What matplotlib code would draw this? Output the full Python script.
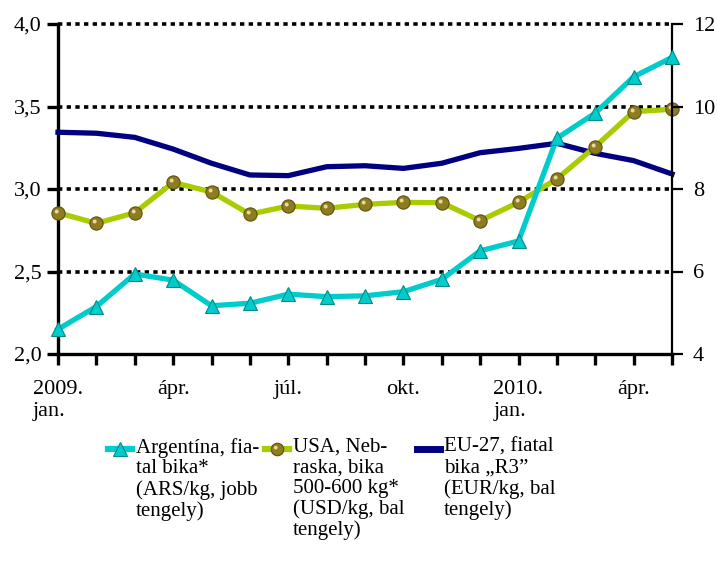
import numpy as np
import matplotlib
matplotlib.use("Agg")
import matplotlib.pyplot as plt
from matplotlib.lines import Line2D
from matplotlib.path import Path
from matplotlib.ticker import FuncFormatter

plt.rcParams['font.family'] = ['Liberation Serif', 'DejaVu Serif']

# 2009 jan .. 2010 máj
months = np.arange(17)
xtick_labels = {0: '2009.\njan.', 3: 'ápr.', 6: 'júl.', 9: 'okt.', 12: '2010.\njan.', 15: 'ápr.'}

# Argentína, fiatal bika (ARS/kg, jobb tengely)
argentina = [4.60, 5.15, 5.94, 5.79, 5.17, 5.23, 5.45, 5.39, 5.41, 5.51,
             5.81, 6.50, 6.74, 9.23, 9.84, 10.72, 11.19]
# USA, Nebraska, bika 500-600 kg (USD/kg, bal tengely)
usa = [2.856, 2.792, 2.856, 3.040, 2.982, 2.847, 2.897, 2.883, 2.907, 2.919,
       2.917, 2.808, 2.919, 3.061, 3.257, 3.469, 3.483]
# EU-27, fiatal bika R3 (EUR/kg, bal tengely)
eu = [3.344, 3.338, 3.313, 3.242, 3.156, 3.085, 3.081, 3.135, 3.141, 3.125,
      3.156, 3.220, 3.246, 3.277, 3.216, 3.172, 3.091]

labels = ['Argentína, fia-\ntal bika*\n(ARS/kg, jobb\ntengely)',
          'USA, Neb-\nraska, bika\n500-600 kg*\n(USD/kg, bal\ntengely)',
          'EU-27, fiatal\nbika „R3”\n(EUR/kg, bal\ntengely)']

c_arg = '#00CCCC'
c_usa = '#A8CC00'
c_eu = '#000080'
c_ball = '#8E7C20'
c_hl = '#E6DA9A'

# small off-centre highlight to make the round markers look like balls
_c = Path.circle((-0.28, 0.3), 0.3)
hl_marker = Path.make_compound_path(_c, Path([(1, -1), (-1, 1)], [Path.MOVETO, Path.MOVETO]))

W, H = 717, 565
fig = plt.figure(figsize=(W / 100, H / 100), dpi=100)
ax = fig.add_axes([58 / W, 1 - 354 / H, 614 / W, 330 / H])
ax2 = ax.twinx()

ax.set_xlim(0, 16)
ax.set_ylim(2.0, 4.0)
ax2.set_ylim(4, 12)
ax.set_yticks([2.0, 2.5, 3.0, 3.5, 4.0])
ax2.set_yticks([4, 6, 8, 10, 12])
ax.yaxis.set_major_formatter(FuncFormatter(lambda v, p: f'{v:.1f}'.replace('.', ',')))

ax.set_xticks(months)
ax.set_xticklabels([xtick_labels.get(m, '') for m in months])

for y in [2.5, 3.0, 3.5, 4.0]:
    ax.axhline(y, color='black', lw=2.6, ls=(0, (1.2, 1.2)), zorder=1, clip_on=False)

ax.plot(months, eu, color=c_eu, lw=3.8, zorder=3, clip_on=False)
ax.plot(months, usa, color=c_usa, lw=3.8, marker='o', ms=9.5,
        mfc=c_ball, mec='#5E500C', mew=0.8, zorder=4, clip_on=False)
ax.plot(months, usa, ls='none', marker=hl_marker, ms=9.5, mfc=c_hl, mec='none',
        zorder=4.5, clip_on=False)
ax2.plot(months, argentina, color=c_arg, lw=3.8, marker='^', ms=10.5,
         mfc=c_arg, mec='#008B8B', mew=0.8, zorder=4, clip_on=False)

for a in (ax, ax2):
    a.spines['top'].set_visible(False)
ax.spines['left'].set_linewidth(2.4)
ax.spines['bottom'].set_linewidth(2.4)
ax.spines['right'].set_visible(False)
ax2.spines['left'].set_visible(False)
ax2.spines['bottom'].set_visible(False)
ax2.spines['right'].set_linewidth(1.6)

ax.tick_params(axis='y', direction='out', length=8, width=2.4, labelsize=16, pad=4)
ax2.tick_params(axis='y', direction='out', length=8, width=1.6, labelsize=16, pad=7)
ax.tick_params(axis='x', direction='out', length=8, width=2.4, labelsize=16, pad=11)

# legend below the plot
fs = 15
entries = [(108, 136, 'line_tri'), (265, 293, 'line_ball'), (417, 444, 'line')]
colors = [c_arg, c_usa, c_eu]
for (hx, tx, kind), col, lab in zip(entries, colors, labels):
    yh = 1 - 449 / H
    lw = 4.5 if kind != 'line' else 5
    fig.add_artist(Line2D([hx / W, (tx - 4) / W], [yh, yh], color=col, lw=lw,
                          transform=fig.transFigure))
    mx = (hx + tx - 4) / 2 / W
    if kind == 'line_tri':
        fig.add_artist(Line2D([mx], [yh], marker='^', ms=10, mfc=c_arg, mec='#008B8B',
                              mew=0.8, transform=fig.transFigure))
    elif kind == 'line_ball':
        fig.add_artist(Line2D([mx], [yh], marker='o', ms=9, mfc=c_ball, mec='#5E500C',
                              mew=0.8, transform=fig.transFigure))
        fig.add_artist(Line2D([mx], [yh], marker=hl_marker, ms=9, mfc=c_hl, mec='none',
                              transform=fig.transFigure))
    fig.text(tx / W, 1 - 438 / H, lab, fontsize=fs, va='top', ha='left',
             linespacing=1.1)

fig.canvas.draw()
for lab in ax.get_xticklabels():
    lab.set_multialignment('left')

fig.savefig('out.png', dpi=100)
